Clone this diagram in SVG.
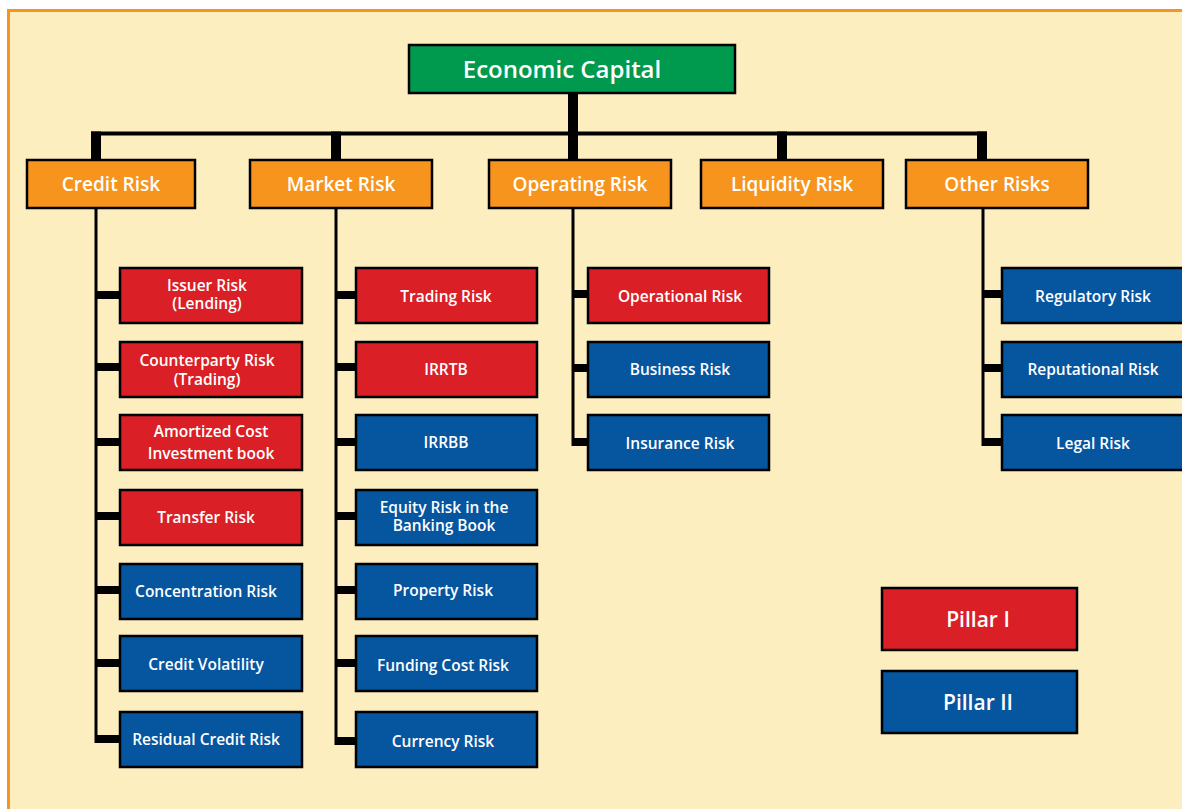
<svg xmlns="http://www.w3.org/2000/svg" width="1182" height="809" viewBox="0 0 1182 809">
<style>
.box{stroke:#000;stroke-width:2.5}
.green{fill:#009A4E}
.orange{fill:#F7941D}
.red{fill:#DA1F26}
.blue{fill:#05559F}
text{font-family:"Open Sans","Noto Sans","Liberation Sans",sans-serif;font-weight:600;fill:#fff;text-anchor:middle}
.t0{font-size:24px}
.t1{font-size:19px}
.t2{font-size:15.5px}
.t3{font-size:21px}
.ln{stroke:#000;stroke-width:3;fill:none}
.bar{fill:#000}
</style>
<rect x="8.5" y="10.5" width="1185" height="810" fill="#FDEEBF" stroke="#F7941D" stroke-width="3"/>
<g id="connectors">
<rect class="bar" x="568" y="94" width="10" height="66"/>
<rect class="bar" x="91" y="131.5" width="896" height="4"/>
<rect class="bar" x="91" y="131.5" width="10" height="28"/>
<rect class="bar" x="331" y="131.5" width="10" height="28"/>
<rect class="bar" x="777" y="131.5" width="10" height="28"/>
<rect class="bar" x="977" y="131.5" width="10" height="28"/>
<line class="ln" x1="96" y1="209" x2="96" y2="743"/>
<rect class="bar" x="95" y="291" width="25" height="8"/>
<rect class="bar" x="95" y="363" width="25" height="8"/>
<rect class="bar" x="95" y="438" width="25" height="8"/>
<rect class="bar" x="95" y="512" width="25" height="8"/>
<rect class="bar" x="95" y="586" width="25" height="8"/>
<rect class="bar" x="95" y="659" width="25" height="8"/>
<rect class="bar" x="95" y="735" width="25" height="8"/>
<line class="ln" x1="336" y1="209" x2="336" y2="745"/>
<rect class="bar" x="335" y="291" width="21" height="8"/>
<rect class="bar" x="335" y="363" width="21" height="8"/>
<rect class="bar" x="335" y="438" width="21" height="8"/>
<rect class="bar" x="335" y="512" width="21" height="8"/>
<rect class="bar" x="335" y="586" width="21" height="8"/>
<rect class="bar" x="335" y="659" width="21" height="8"/>
<rect class="bar" x="335" y="737" width="21" height="8"/>
<line class="ln" x1="573" y1="209" x2="573" y2="446"/>
<rect class="bar" x="572" y="290" width="16" height="8"/>
<rect class="bar" x="572" y="364" width="16" height="8"/>
<rect class="bar" x="572" y="438" width="16" height="8"/>
<line class="ln" x1="983" y1="209" x2="983" y2="446"/>
<rect class="bar" x="982" y="290" width="20" height="8"/>
<rect class="bar" x="982" y="364" width="20" height="8"/>
<rect class="bar" x="982" y="438" width="20" height="8"/>
</g>
<g id="economic-capital"><rect class="box green" x="409" y="45" width="326" height="48"/><text class="t0" x="562" y="78">Economic Capital</text></g>
<g id="credit-risk"><rect class="box orange" x="27" y="160" width="168" height="48"/><text class="t1" x="111" y="191">Credit Risk</text></g>
<g id="market-risk"><rect class="box orange" x="250" y="160" width="182" height="48"/><text class="t1" x="341" y="191">Market Risk</text></g>
<g id="operating-risk"><rect class="box orange" x="489" y="160" width="182" height="48"/><text class="t1" x="580" y="191">Operating Risk</text></g>
<g id="liquidity-risk"><rect class="box orange" x="701" y="160" width="182" height="48"/><text class="t1" x="792" y="191">Liquidity Risk</text></g>
<g id="other-risks"><rect class="box orange" x="906" y="160" width="182" height="48"/><text class="t1" x="997" y="191">Other Risks</text></g>

<g id="issuer-risk"><rect class="box red" x="120" y="268" width="182" height="55"/><text class="t2" x="207" y="291">Issuer Risk<tspan x="207" dy="18">(Lending)</tspan></text></g>
<g id="counterparty-risk"><rect class="box red" x="120" y="342" width="182" height="55"/><text class="t2" x="207" y="366">Counterparty Risk<tspan x="207" dy="19">(Trading)</tspan></text></g>
<g id="amortized-cost"><rect class="box red" x="120" y="415" width="182" height="55"/><text class="t2" x="211" y="437">Amortized Cost<tspan x="211" dy="22">Investment book</tspan></text></g>
<g id="transfer-risk"><rect class="box red" x="120" y="490" width="182" height="55"/><text class="t2" x="206" y="523">Transfer Risk</text></g>
<g id="concentration-risk"><rect class="box blue" x="120" y="564" width="182" height="55"/><text class="t2" x="206" y="597">Concentration Risk</text></g>
<g id="credit-volatility"><rect class="box blue" x="120" y="636" width="182" height="55"/><text class="t2" x="206" y="670">Credit Volatility</text></g>
<g id="residual-credit-risk"><rect class="box blue" x="120" y="712" width="182" height="55"/><text class="t2" x="206" y="745">Residual Credit Risk</text></g>

<g id="trading-risk"><rect class="box red" x="356" y="268" width="181" height="55"/><text class="t2" x="446" y="302">Trading Risk</text></g>
<g id="irrtb"><rect class="box red" x="356" y="342" width="181" height="55"/><text class="t2" x="446" y="375">IRRTB</text></g>
<g id="irrbb"><rect class="box blue" x="356" y="415" width="181" height="55"/><text class="t2" x="446" y="448">IRRBB</text></g>
<g id="equity-risk"><rect class="box blue" x="356" y="490" width="181" height="55"/><text class="t2" x="444" y="513">Equity Risk in the<tspan x="444" dy="18">Banking Book</tspan></text></g>
<g id="property-risk"><rect class="box blue" x="356" y="564" width="181" height="55"/><text class="t2" x="443" y="596">Property Risk</text></g>
<g id="funding-cost-risk"><rect class="box blue" x="356" y="636" width="181" height="55"/><text class="t2" x="443" y="671">Funding Cost Risk</text></g>
<g id="currency-risk"><rect class="box blue" x="356" y="712" width="181" height="55"/><text class="t2" x="443" y="747">Currency Risk</text></g>

<g id="operational-risk"><rect class="box red" x="588" y="268" width="181" height="55"/><text class="t2" x="680" y="302">Operational Risk</text></g>
<g id="business-risk"><rect class="box blue" x="588" y="342" width="181" height="55"/><text class="t2" x="680" y="375">Business Risk</text></g>
<g id="insurance-risk"><rect class="box blue" x="588" y="415" width="181" height="55"/><text class="t2" x="680" y="449">Insurance Risk</text></g>

<g id="regulatory-risk"><rect class="box blue" x="1002" y="268" width="184" height="55"/><text class="t2" x="1093" y="302">Regulatory Risk</text></g>
<g id="reputational-risk"><rect class="box blue" x="1002" y="342" width="184" height="55"/><text class="t2" x="1093" y="375">Reputational Risk</text></g>
<g id="legal-risk"><rect class="box blue" x="1002" y="415" width="184" height="55"/><text class="t2" x="1093" y="449">Legal Risk</text></g>

<g id="pillar-1"><rect class="box red" x="882" y="588" width="195" height="62"/><text class="t3" x="978" y="627">Pillar I</text></g>
<g id="pillar-2"><rect class="box blue" x="882" y="671" width="195" height="62"/><text class="t3" x="978" y="710">Pillar II</text></g>
</svg>
